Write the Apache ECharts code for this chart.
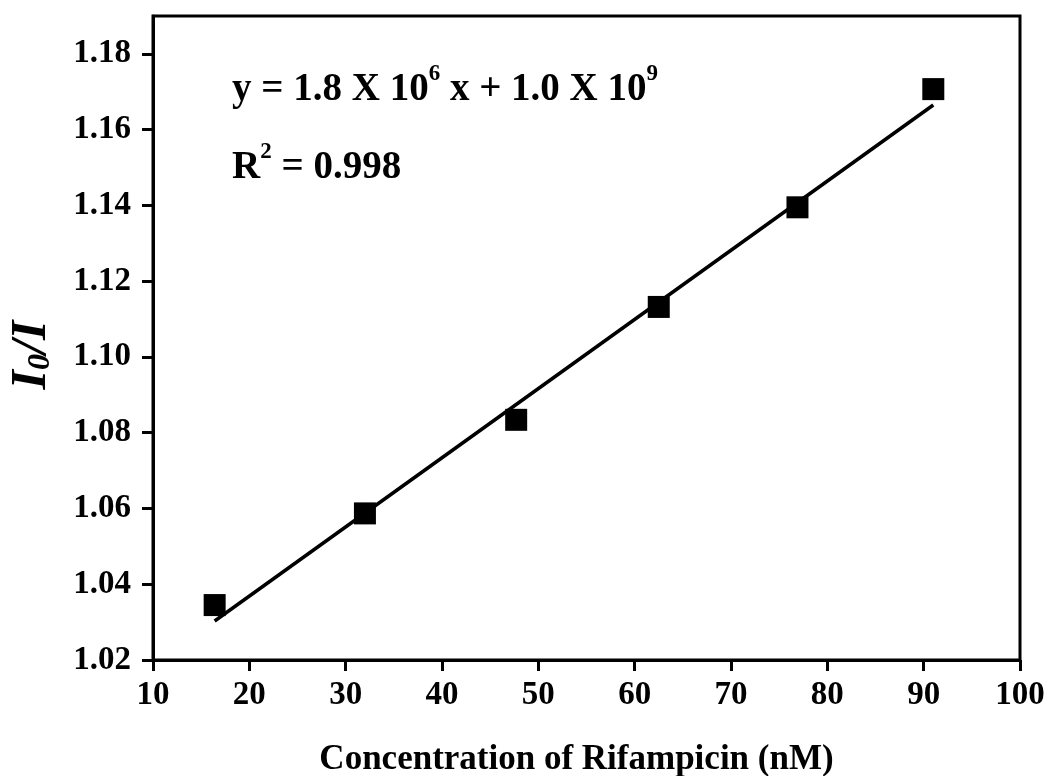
<!DOCTYPE html>
<html>
<head>
<meta charset="utf-8">
<title>Rifampicin calibration</title>
<script src="https://cdn.jsdelivr.net/npm/echarts@6/dist/echarts.min.js"></script>
<style>
  html, body { margin: 0; padding: 0; background: #ffffff; }
  #chart { width: 1049px; height: 776px; }
</style>
</head>
<body>
<div id="chart"></div>
<script>
// Measured quenching ratio I0/I versus rifampicin concentration
const concentration = [16.4, 32.0, 47.7, 62.5, 76.9, 91.0];
const ratio = [1.0345, 1.0587, 1.0834, 1.1132, 1.1395, 1.1707];

// End points of the fitted calibration line
const fitX = [16.4, 91.0];
const fitY = [1.0303, 1.1665];

// Axis tick values
const xTicks = [10, 20, 30, 40, 50, 60, 70, 80, 90, 100];
const yTicks = [1.02, 1.04, 1.06, 1.08, 1.10, 1.12, 1.14, 1.16, 1.18];

const FONT = '"Liberation Serif", "Times New Roman", serif';

const chart = echarts.init(document.getElementById('chart'), null, { renderer: 'canvas' });

const axisLineStyle = { color: '#000', width: 3 };

const eqRich = {
  t: { fontFamily: FONT, fontWeight: 'bold', fontSize: 39, fill: '#000', lineHeight: 46, verticalAlign: 'bottom' },
  p: { fontFamily: FONT, fontWeight: 'bold', fontSize: 23, fill: '#000', lineHeight: 23, verticalAlign: 'top' }
};

chart.setOption({
  backgroundColor: '#ffffff',
  animation: false,
  grid: {
    left: 153, right: 29, top: 16, bottom: 116,
    outerBoundsMode: 'none', containLabel: false,
    show: true, borderColor: '#000', borderWidth: 3, backgroundColor: 'transparent'
  },
  xAxis: {
    type: 'value', min: 10, max: 100, interval: 10,
    name: 'Concentration of Rifampicin (nM)',
    nameLocation: 'middle', nameGap: 82,
    nameTextStyle: { fontFamily: FONT, fontWeight: 'bold', fontSize: 35, color: '#000', padding: [0, 20, 0, 0] },
    axisLine: { show: true, lineStyle: axisLineStyle },
    axisTick: { show: true, inside: false, length: 11, lineStyle: { color: '#000', width: 3 }, customValues: xTicks },
    axisLabel: { fontFamily: FONT, fontWeight: 'bold', fontSize: 33, color: '#000', margin: 19, customValues: xTicks },
    splitLine: { show: false }
  },
  yAxis: {
    type: 'value', min: 1.02, max: 1.19,
    name: '{m|I}{s|0}{m|/I}',
    nameLocation: 'middle', nameGap: 96, nameRotate: 90,
    nameTextStyle: {
      padding: [0, 34, 0, 0],
      rich: {
        m: { fontFamily: FONT, fontWeight: 'bold', fontStyle: 'italic', fontSize: 50, color: '#000', lineHeight: 50, verticalAlign: 'bottom' },
        s: { fontFamily: FONT, fontWeight: 'bold', fontStyle: 'italic', fontSize: 32, color: '#000', lineHeight: 32, verticalAlign: 'bottom' }
      }
    },
    axisLine: { show: true, lineStyle: axisLineStyle },
    axisTick: { show: true, inside: false, length: 11, lineStyle: { color: '#000', width: 3 }, customValues: yTicks },
    axisLabel: {
      fontFamily: FONT, fontWeight: 'bold', fontSize: 33, color: '#000', margin: 22,
      customValues: yTicks,
      formatter: v => v.toFixed(2)
    },
    splitLine: { show: false }
  },
  graphic: [
    {
      type: 'text', left: 232, top: 63, silent: true,
      style: { text: '{t|y = 1.8 X 10}{p|6}{t| x + 1.0 X 10}{p|9}', rich: eqRich }
    },
    {
      type: 'text', left: 232, top: 141, silent: true,
      style: { text: '{t|R}{p|2}{t| = 0.998}', rich: eqRich }
    }
  ],
  series: [
    {
      name: 'Linear fit', type: 'line',
      data: fitX.map((x, i) => [x, fitY[i]]),
      showSymbol: false, symbol: 'none',
      lineStyle: { color: '#000', width: 3.5 },
      z: 2
    },
    {
      name: 'I0/I', type: 'scatter',
      data: concentration.map((x, i) => [x, ratio[i]]),
      symbol: 'rect', symbolSize: 22,
      itemStyle: { color: '#000', opacity: 1 },
      z: 3
    }
  ]
});
</script>
</body>
</html>
